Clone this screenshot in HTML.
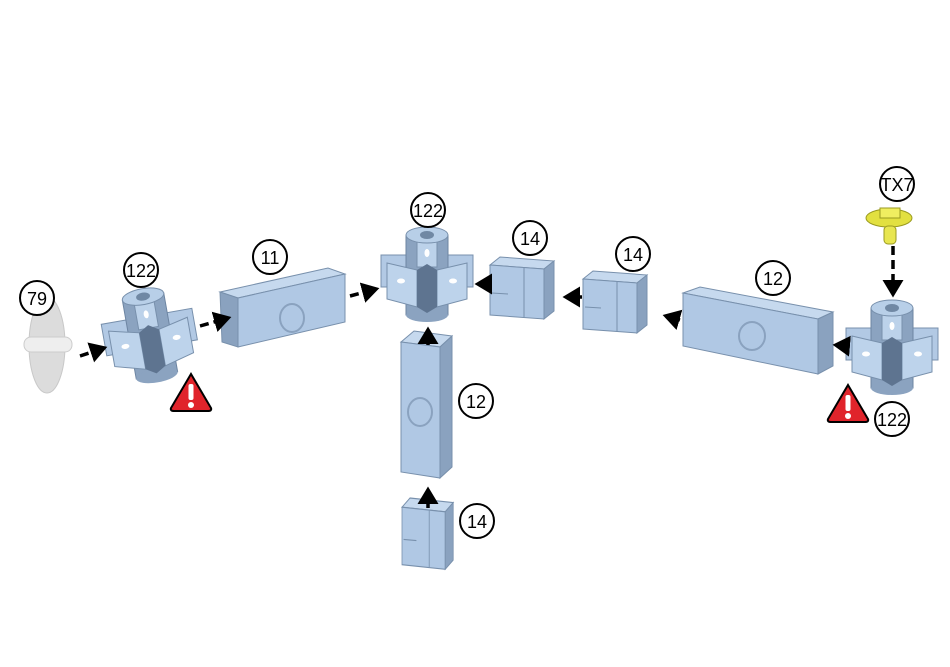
<!DOCTYPE html>
<html><head><meta charset="utf-8"><style>
html,body{margin:0;padding:0;background:#fff;}
svg{display:block;}
text{font-family:"Liberation Sans",sans-serif;font-size:18px;fill:#000;text-anchor:middle;}
</style></head><body>
<svg width="950" height="667" viewBox="0 0 950 667" xmlns="http://www.w3.org/2000/svg">
<defs>
<g id="hub">
  <rect x="-46" y="-20" width="92" height="32" fill="#b2c9e4" stroke="#7890ac" stroke-width="1"/>
  <rect x="-21" y="-40" width="42" height="80" fill="#8ba3c0" stroke="#6d85a2" stroke-width="1"/>
  <ellipse cx="0" cy="40" rx="21" ry="7" fill="#8ba3c0"/>
  <rect x="-10" y="-38" width="20" height="30" fill="#bcd2ea" stroke="#7890ac" stroke-width="1"/>
  <ellipse cx="0" cy="-40" rx="21" ry="8" fill="#b8cfe8" stroke="#7890ac" stroke-width="1"/>
  <ellipse cx="0" cy="-40" rx="7" ry="4" fill="#7088a4"/>
  <polygon points="-40,-12 -10,-5 -10,32 -40,24" fill="#bdd3eb" stroke="#7890ac" stroke-width="1"/>
  <polygon points="10,-5 40,-12 40,24 10,32" fill="#bdd3eb" stroke="#7890ac" stroke-width="1"/>
  <polygon points="-10,-5 0,-11 10,-5 10,32 0,38 -10,32" fill="#5e7490"/>
  <ellipse cx="-26" cy="6" rx="4" ry="2.5" fill="#fff"/>
  <ellipse cx="26" cy="6" rx="4" ry="2.5" fill="#fff"/>
  <ellipse cx="0" cy="-22" rx="2.5" ry="4" fill="#fff"/>
</g>
<g id="warn">
  <path d="M0,-19 L20,15 Q21,18 17,18 L-17,18 Q-21,18 -20,15 Z" fill="#e0242b" stroke="#000" stroke-width="2"/>
  <rect x="-2.5" y="-9" width="5" height="16" rx="2" fill="#fff"/>
  <circle cx="0" cy="12" r="3" fill="#fff"/>
</g>
<g id="box14">
  <polygon points="0,8 10,0 64,4 54,12" fill="#c6d9ee" stroke="#7890ac"/>
  <polygon points="0,8 54,12 54,62 0,58" fill="#b0c8e4" stroke="#7890ac"/>
  <polygon points="54,12 64,4 64,54 54,62" fill="#8aa2bf" stroke="#7890ac"/>
  <line x1="34" y1="11" x2="34" y2="60" stroke="#7890ac"/>
  <line x1="2" y1="36" x2="18" y2="37" stroke="#7890ac"/>
</g>
<marker id="ah" markerWidth="6" markerHeight="6" refX="4" refY="3" orient="auto" markerUnits="strokeWidth">
  <path d="M0,0 L5,3 L0,6 Z" fill="#000"/>
</marker>
</defs>

<ellipse cx="47" cy="345" rx="18" ry="48" fill="#dcdcdc" stroke="#c8c8c8"/>
<rect x="24" y="337" width="48" height="15" rx="7" fill="#eee" stroke="#ccc"/>

<g transform="translate(150,336) rotate(-10)"><use href="#hub"/></g>

<polygon points="220,292 328,268 345,274 238,298" fill="#c6d9ee" stroke="#7890ac"/>
<polygon points="238,298 345,274 345,322 238,347" fill="#b0c8e4" stroke="#7890ac"/>
<polygon points="220,292 238,298 238,347 222,342" fill="#8aa2bf" stroke="#7890ac"/>
<ellipse cx="292" cy="318" rx="12" ry="14" fill="none" stroke="#8aa2bf" stroke-width="2"/>

<use href="#hub" transform="translate(427,275)"/>

<polygon points="401,342 414,331 452,336 440,347" fill="#c6d9ee" stroke="#7890ac"/>
<polygon points="401,342 440,347 440,478 401,472" fill="#b0c8e4" stroke="#7890ac"/>
<polygon points="440,347 452,336 452,467 440,478" fill="#8aa2bf" stroke="#7890ac"/>
<ellipse cx="420" cy="412" rx="12" ry="14" fill="none" stroke="#8aa2bf" stroke-width="2"/>

<g transform="translate(402,498) scale(0.8,1.15)"><use href="#box14"/></g>

<use href="#box14" transform="translate(490,257)"/>
<use href="#box14" transform="translate(583,271)"/>

<polygon points="683,293 700,287 833,312 818,319" fill="#c6d9ee" stroke="#7890ac"/>
<polygon points="683,293 818,319 818,374 683,346" fill="#b0c8e4" stroke="#7890ac"/>
<polygon points="818,319 833,312 833,366 818,374" fill="#8aa2bf" stroke="#7890ac"/>
<ellipse cx="752" cy="336" rx="13" ry="14" fill="none" stroke="#8aa2bf" stroke-width="2"/>

<use href="#hub" transform="translate(892,348)"/>

<ellipse cx="889" cy="218" rx="23" ry="9" fill="#e2e040" stroke="#9a9a20"/>
<rect x="880" y="208" width="20" height="10" fill="#f0ee60" stroke="#9a9a20"/>
<rect x="884" y="226" width="12" height="18" rx="4" fill="#e8e650" stroke="#9a9a20"/>

<g stroke="#000" stroke-width="3.5" stroke-dasharray="9,5" fill="none" marker-end="url(#ah)">
  <line x1="80" y1="356" x2="104" y2="348"/>
  <line x1="200" y1="326" x2="228" y2="318"/>
  <line x1="350" y1="296" x2="376" y2="289"/>
  <line x1="428" y1="345" x2="428" y2="330"/>
  <line x1="490" y1="284" x2="478" y2="284"/>
  <line x1="582" y1="297" x2="566" y2="297"/>
  <line x1="680" y1="320" x2="666" y2="316"/>
  <line x1="848" y1="346" x2="836" y2="345"/>
  <line x1="893" y1="246" x2="893" y2="294"/>
  <line x1="428" y1="508" x2="428" y2="490"/>
</g>

<use href="#warn" transform="translate(191,393)"/>
<use href="#warn" transform="translate(848,404)"/>

<g fill="#fff" stroke="#000" stroke-width="2">
  <circle cx="37" cy="298" r="17"/>
  <circle cx="141" cy="270" r="17"/>
  <circle cx="270" cy="257" r="17"/>
  <circle cx="428" cy="210" r="17"/>
  <circle cx="530" cy="238" r="17"/>
  <circle cx="633" cy="254" r="17"/>
  <circle cx="773" cy="278" r="17"/>
  <circle cx="897" cy="184" r="17"/>
  <circle cx="476" cy="401" r="17"/>
  <circle cx="477" cy="521" r="17"/>
  <circle cx="892" cy="419" r="17"/>
</g>
<text x="37" y="305">79</text>
<text x="141" y="277">122</text>
<text x="270" y="264">11</text>
<text x="428" y="217">122</text>
<text x="530" y="245">14</text>
<text x="633" y="261">14</text>
<text x="773" y="285">12</text>
<text x="897" y="191">TX7</text>
<text x="476" y="408">12</text>
<text x="477" y="528">14</text>
<text x="892" y="426">122</text>
</svg>
</body></html>
